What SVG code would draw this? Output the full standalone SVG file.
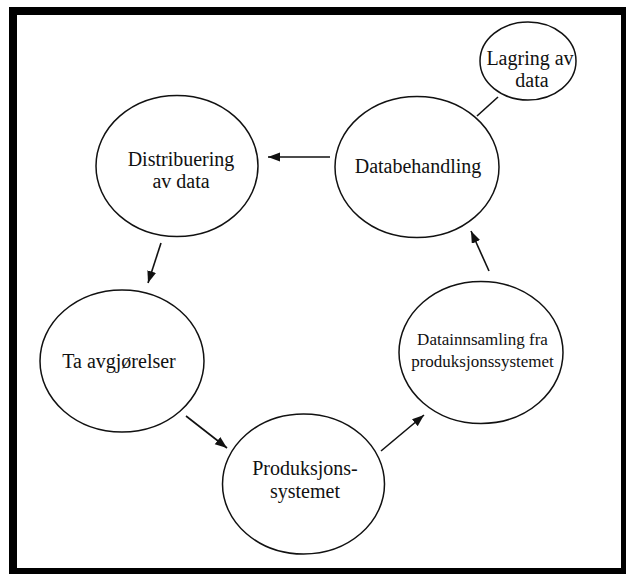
<svg xmlns="http://www.w3.org/2000/svg" width="626" height="574" viewBox="0 0 626 574">
<style>
.n{fill:#fff;stroke:#111;stroke-width:1.5}
text{font-family:'Liberation Serif','Times New Roman','DejaVu Serif',serif;font-size:20px;fill:#111;text-anchor:middle}
text.s{font-size:17px}
.c{stroke:#111;stroke-width:1.6;fill:none}
</style>
<defs>
<marker id="ah" markerUnits="userSpaceOnUse" markerWidth="13" markerHeight="10" refX="12" refY="4.5" orient="auto">
<path d="M0,0 L12,4.5 L0,9 z" fill="#111"/>
</marker>
</defs>
<rect x="0" y="0" width="626" height="574" fill="#fff"/>
<rect x="13" y="11" width="612" height="561" fill="none" stroke="#000" stroke-width="8"/>
<g id="connectors">
<line class="c" x1="477" y1="116" x2="498" y2="97"/>
<line class="c" x1="330" y1="157" x2="268" y2="157" marker-end="url(#ah)"/>
<line class="c" x1="161" y1="243" x2="148" y2="283" marker-end="url(#ah)"/>
<line class="c" x1="186" y1="416" x2="227" y2="448" marker-end="url(#ah)"/>
<line class="c" x1="381" y1="451" x2="424" y2="415" marker-end="url(#ah)"/>
<line class="c" x1="489" y1="271" x2="471" y2="231" marker-end="url(#ah)"/>
</g>
<g id="lagring" font-family="Liberation Serif, serif">
<ellipse class="n" cx="528" cy="61" rx="48" ry="39"/>
<text x="530" y="65">Lagring av</text>
<text x="532" y="87">data</text>
</g>
<g id="databehandling">
<ellipse class="n" cx="417" cy="167" rx="82" ry="70.5"/>
<text x="418" y="173">Databehandling</text>
</g>
<g id="distribuering">
<ellipse class="n" cx="177" cy="166" rx="81" ry="70.5"/>
<text x="181" y="166">Distribuering</text>
<text x="181" y="188">av data</text>
</g>
<g id="avgjorelser">
<ellipse class="n" cx="122" cy="361" rx="82" ry="71"/>
<text x="119" y="368">Ta avgjørelser</text>
</g>
<g id="produksjon">
<ellipse class="n" cx="303.5" cy="484" rx="81" ry="70"/>
<text x="305" y="475">Produksjons-</text>
<text x="305" y="498">systemet</text>
</g>
<g id="datainnsamling">
<ellipse class="n" cx="481" cy="352.5" rx="82" ry="71"/>
<text class="s" x="482.5" y="344.5">Datainnsamling fra</text>
<text class="s" x="482.5" y="366.5">produksjonssystemet</text>
</g>
</svg>
